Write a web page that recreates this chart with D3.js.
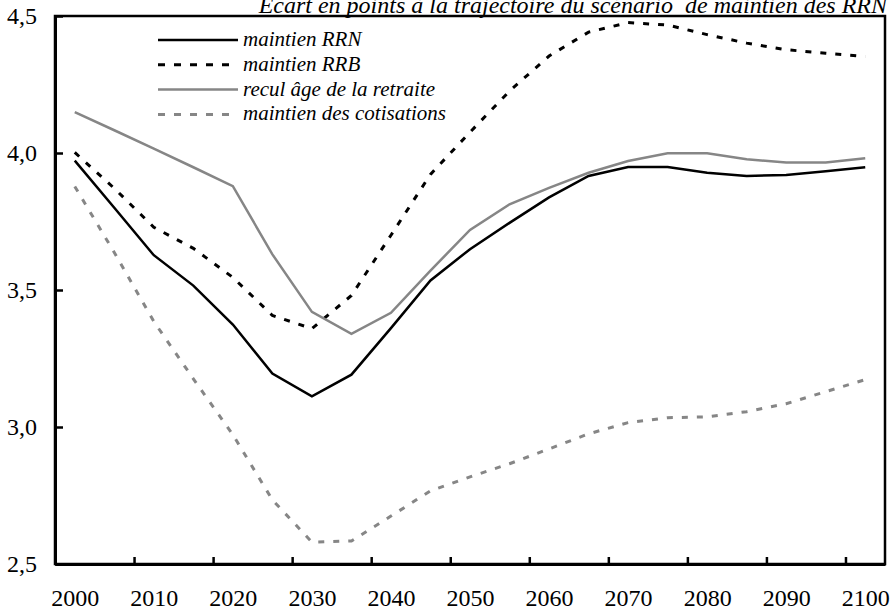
<!DOCTYPE html>
<html>
<head>
<meta charset="utf-8">
<script src="https://cdn.jsdelivr.net/npm/d3@7"></script>
<style>
  html, body { margin: 0; padding: 0; background: #fff; }
  svg { display: block; }
  text { font-family: "Liberation Serif", "Times New Roman", serif; fill: #000; }
</style>
</head>
<body>
<svg id="chart" width="893" height="612"></svg>
<script>
// ---- data ----
const years = [2000, 2005, 2010, 2015, 2020, 2025, 2030, 2035, 2040, 2045, 2050,
               2055, 2060, 2065, 2070, 2075, 2080, 2085, 2090, 2095, 2100];
const maintienRRN = [3.972, 3.800, 3.627, 3.516, 3.374, 3.195, 3.112, 3.191, 3.361, 3.535, 3.649,
                     3.745, 3.838, 3.916, 3.949, 3.949, 3.928, 3.916, 3.920, 3.933, 3.948];
const maintienRRB = [4.002, 3.871, 3.729, 3.652, 3.546, 3.407, 3.359, 3.480, 3.700, 3.922, 4.076,
                     4.226, 4.354, 4.441, 4.476, 4.467, 4.432, 4.401, 4.377, 4.364, 4.352];
const reculAge = [4.149, 4.083, 4.016, 3.948, 3.879, 3.630, 3.420, 3.340, 3.417, 3.571, 3.719,
                  3.813, 3.873, 3.928, 3.971, 3.999, 3.999, 3.977, 3.965, 3.965, 3.981];
const maintienCotis = [3.878, 3.637, 3.385, 3.176, 2.972, 2.734, 2.580, 2.584, 2.675, 2.767, 2.818,
                       2.866, 2.920, 2.975, 3.016, 3.034, 3.037, 3.056, 3.085, 3.129, 3.173];
const seriesNames = ["maintien RRN", "maintien RRB", "recul âge de la retraite", "maintien des cotisations"];
const yTicks = [2.5, 3.0, 3.5, 4.0, 4.5];
const xLabelYears = [2000, 2010, 2020, 2030, 2040, 2050, 2060, 2070, 2080, 2090, 2100];
const titleText = "Ecart en points à la trajectoire du scénario  de maintien des RRN";

// ---- layout ----
const svg = d3.select("#chart");
const pLeft = 55, pRight = 885, pTop = 16, pBottom = 564;

const x = d3.scaleLinear().domain([1997.5, 2102.5]).range([pLeft, pRight]);
const y = d3.scaleLinear().domain([2.5, 4.5]).range([pBottom, pTop]);

const styles = [
  { color: "#000", width: 2.5, dash: null },
  { color: "#000", width: 3, dash: "6,9" },
  { color: "#868686", width: 2.5, dash: null },
  { color: "#868686", width: 3, dash: "6,9" }
];
const allSeries = [maintienRRN, maintienRRB, reculAge, maintienCotis];

// title (drawn first so the frame sits over its descenders, as in the reference)
svg.append("text")
  .attr("x", 887).attr("y", 13)
  .attr("text-anchor", "end")
  .style("font-size", "24px").style("font-style", "italic")
  .style("white-space", "pre")
  .attr("xml:space", "preserve")
  .text(titleText);

// plot frame
svg.append("rect")
  .attr("x", pLeft).attr("y", pTop)
  .attr("width", pRight - pLeft).attr("height", pBottom - pTop)
  .attr("fill", "none").attr("stroke", "#000").attr("stroke-width", 2.5);

// lines
const line = d3.line().x((d, i) => x(years[i])).y(d => y(d));
allSeries.forEach((s, k) => {
  const p = svg.append("path").datum(s)
    .attr("d", line)
    .attr("fill", "none")
    .attr("stroke", styles[k].color)
    .attr("stroke-width", styles[k].width)
    .attr("stroke-linejoin", "miter");
  if (styles[k].dash) p.attr("stroke-dasharray", styles[k].dash);
});

// y axis
const yAxis = d3.axisLeft(y).tickValues(yTicks)
  .tickFormat(d => d3.format(".1f")(d).replace(".", ","))
  .tickSizeInner(-8).tickSizeOuter(0).tickPadding(18);
const gy = svg.append("g").attr("transform", `translate(${pLeft},0)`).call(yAxis);
gy.select(".domain").attr("stroke", "#000").attr("stroke-width", 3);
gy.selectAll(".tick line").attr("stroke", "#000").attr("stroke-width", 2.5);
gy.selectAll(".tick text").style("font-size", "24px").attr("font-family", "Liberation Serif");

// x axis tick marks (category boundaries)
const tickYears = d3.range(0, 11).map(i => 1997.5 + 10 * i);
const xTickAxis = d3.axisBottom(x).tickValues(tickYears).tickFormat("")
  .tickSizeInner(-7).tickSizeOuter(0);
const gx = svg.append("g").attr("transform", `translate(0,${pBottom})`).call(xTickAxis);
gx.select(".domain").attr("stroke", "#000").attr("stroke-width", 3);
gx.selectAll(".tick line").attr("stroke", "#000").attr("stroke-width", 2.5);

// x axis labels (category centers)
const xLabelAxis = d3.axisBottom(x).tickValues(xLabelYears).tickFormat(d3.format("d"))
  .tickSize(0).tickPadding(25);
const gxl = svg.append("g").attr("transform", `translate(0,${pBottom})`).call(xLabelAxis);
gxl.select(".domain").remove();
gxl.selectAll(".tick text").style("font-size", "24px").attr("font-family", "Liberation Serif");

// legend
const legend = svg.append("g");
const legY0 = 40, legStep = 24.8;
seriesNames.forEach((name, k) => {
  const yy = legY0 + k * legStep;
  const l = legend.append("line")
    .attr("x1", 158).attr("x2", 238).attr("y1", yy).attr("y2", yy)
    .attr("stroke", styles[k].color).attr("stroke-width", styles[k].width);
  if (styles[k].dash) l.attr("stroke-dasharray", "7,9");
  legend.append("text")
    .attr("x", 243).attr("y", yy + 6)
    .style("font-size", "21px").style("font-style", "italic")
    .text(name);
});
</script>
</body>
</html>
